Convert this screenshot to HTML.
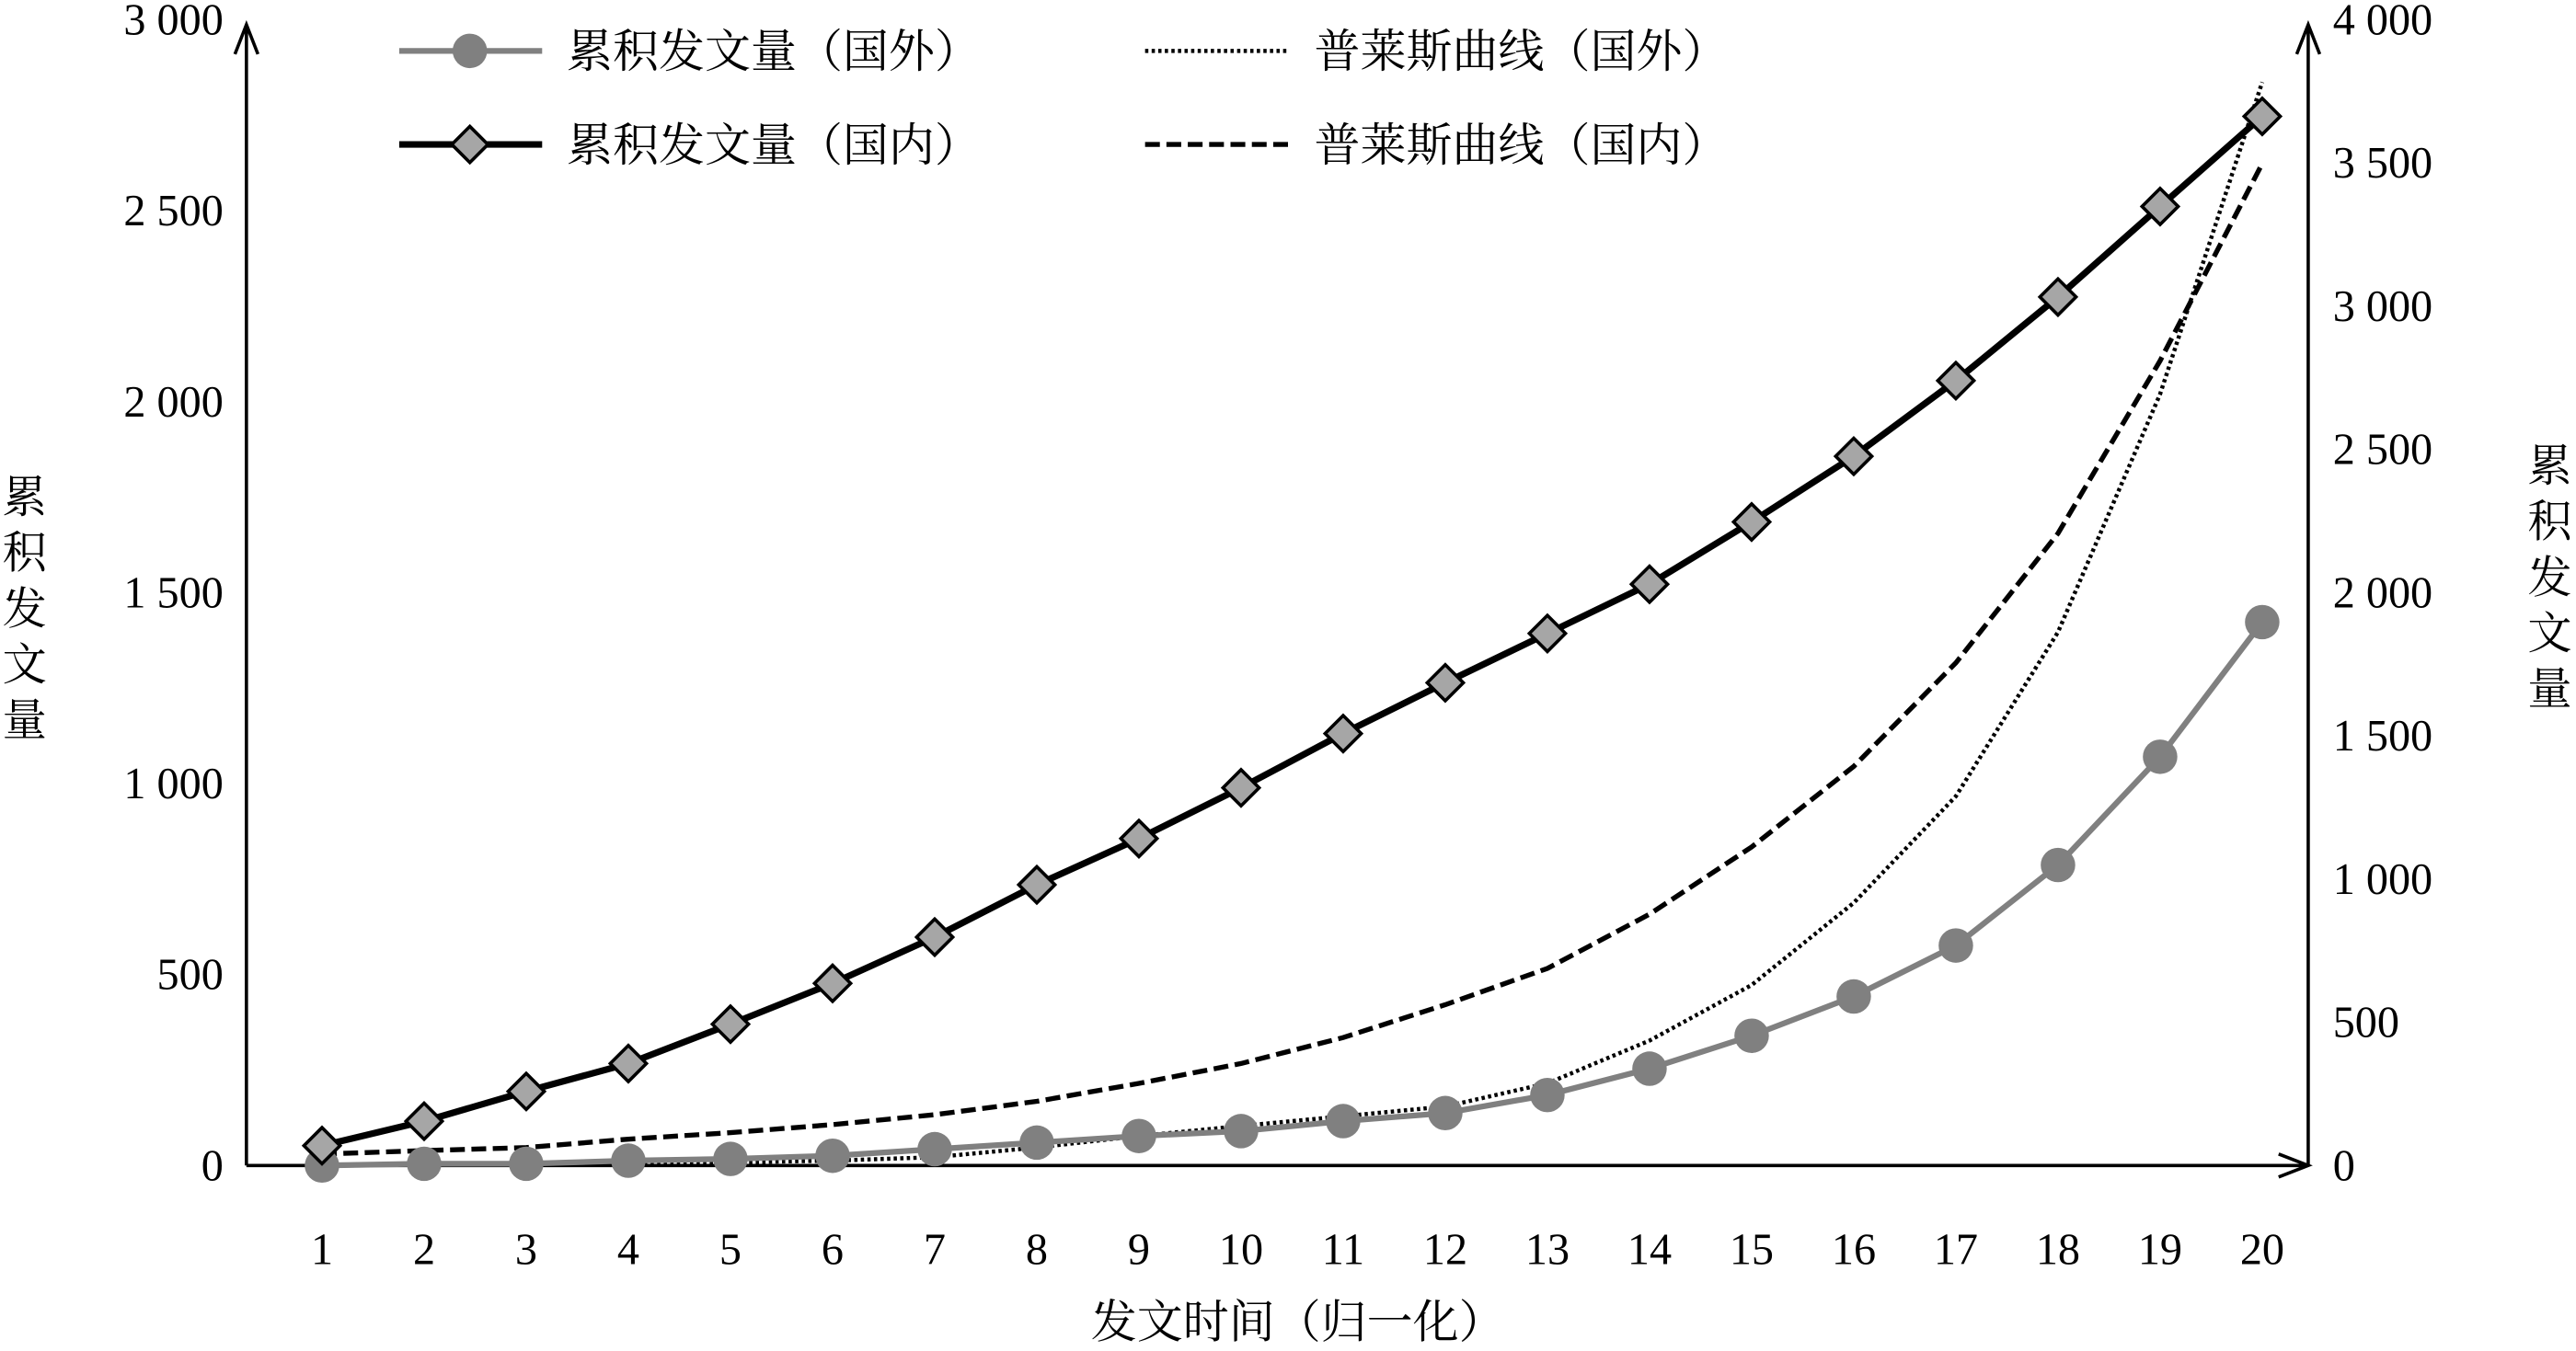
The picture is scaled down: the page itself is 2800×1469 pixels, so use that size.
<!DOCTYPE html>
<html><head><meta charset="utf-8"><style>
html,body{margin:0;padding:0;background:#fff;}
svg{display:block;}
text{font-family:"Liberation Serif","Noto Serif CJK SC",serif;fill:#000;}
</style></head><body>
<svg id="chart" width="2800" height="1469" viewBox="0 0 1568 823" preserveAspectRatio="none" xmlns="http://www.w3.org/2000/svg">
<g id="axes"></g>
<g id="series"></g>
<g id="legend"></g>
</svg>
<script>
const categories=[1,2,3,4,5,6,7,8,9,10,11,12,13,14,15,16,17,18,19,20];
const domesticCum=[52,116,194,267,370,477,598,735,856,989,1131,1264,1393,1522,1685,1857,2055,2274,2511,2747];
const domesticPearl=[30,39,47,69,86,107,133,168,215,267,335,421,516,658,834,1045,1316,1655,2107,2623];
const foreignCum=[0,6,6,17,23,34,57,80,103,120,155,183,246,338,453,590,768,1049,1427,1897];
const foreignPearl=[0,6,6,11,11,17,29,63,103,138,172,206,287,436,630,917,1289,1862,2693,3782];
const leftTicks=[0,500,1000,1500,2000,2500,3000];
const rightTicks=[0,500,1000,1500,2000,2500,3000,3500,4000];
const leftTickLabels=["0","500","1 000","1 500","2 000","2 500","3 000"];
const rightTickLabels=["0","500","1 000","1 500","2 000","2 500","3 000","3 500","4 000"];

const NS="http://www.w3.org/2000/svg";
const X0=150,X1=1405,Y0=710,YT=12;
const xPos=c=>196+(c-1)*(1377-196)/19;
const yL=v=>Y0-v*(Y0-YT)/3000;
const yR=v=>Y0-v*(Y0-YT)/4000;
function mk(parent,tag,attrs,txt){const e=document.createElementNS(NS,tag);for(const k in attrs)e.setAttribute(k,attrs[k]);if(txt!=null)e.textContent=txt;parent.appendChild(e);return e;}
const axes=document.getElementById('axes'),series=document.getElementById('series'),legend=document.getElementById('legend');

let e;
e=mk(axes,'path',{d:`M${X0} ${Y0}V15M${X0-7} 33L${X0} 15L${X0+7} 33`,stroke:'#000','stroke-width':2,fill:'none'});

e=mk(axes,'path',{d:`M${X1} ${Y0}V15M${X1-7} 33L${X1} 15L${X1+7} 33`,stroke:'#000','stroke-width':2,fill:'none'});

e=mk(axes,'path',{d:`M${X0} ${Y0}H${X1}M${X1-18} ${Y0-7}L${X1} ${Y0}L${X1-18} ${Y0+7}`,stroke:'#000','stroke-width':2,fill:'none'});


leftTicks.forEach((t,i)=>{e=mk(axes,'text',{x:136,y:yL(t)+9,'text-anchor':'end','font-size':27},leftTickLabels[i]);
});
rightTicks.forEach((t,i)=>{e=mk(axes,'text',{x:1420,y:yR(t)+9,'text-anchor':'start','font-size':27},rightTickLabels[i]);
});
categories.forEach(c=>{e=mk(axes,'text',{x:xPos(c),y:770,'text-anchor':'middle','font-size':27},String(c));
});
e=mk(axes,'text',{x:790,y:815,'text-anchor':'middle','font-size':28},'发文时间（归一化）');

const yt='累积发文量';
[...yt].forEach((ch,i)=>{e=mk(axes,'text',{x:15,y:312+i*34,'text-anchor':'middle','font-size':27},ch);

e=mk(axes,'text',{x:1552,y:293+i*34,'text-anchor':'middle','font-size':27},ch);
});

function pts(arr,yf){return arr.map((v,i)=>`${xPos(categories[i])},${yf(v)}`).join(' ');}
e=mk(series,'polyline',{points:pts(foreignPearl,yR),fill:'none',stroke:'#000','stroke-width':2.5,'stroke-dasharray':'2 2'});

e=mk(series,'polyline',{points:pts(domesticPearl,yL),fill:'none',stroke:'#000','stroke-width':3,'stroke-dasharray':'9 4'});

e=mk(series,'polyline',{points:pts(foreignCum,yR),fill:'none',stroke:'#808080','stroke-width':3.5});

foreignCum.forEach((v,i)=>{e=mk(series,'circle',{cx:xPos(categories[i]),cy:yR(v),r:10.5,fill:'#808080'});
});
e=mk(series,'polyline',{points:pts(domesticCum,yL),fill:'none',stroke:'#000','stroke-width':4});

domesticCum.forEach((v,i)=>{const x=xPos(categories[i]),y=yL(v);
e=mk(series,'path',{d:`M${x} ${y-11}L${x+11} ${y}L${x} ${y+11}L${x-11} ${y}Z`,fill:'#a6a6a6',stroke:'#000','stroke-width':2});
});

// legend
e=mk(legend,'line',{x1:243,y1:31,x2:330,y2:31,stroke:'#808080','stroke-width':3.5});

e=mk(legend,'circle',{cx:286,cy:31,r:10.5,fill:'#808080'});

e=mk(legend,'text',{x:345,y:41,'font-size':28},'累积发文量（国外）');

e=mk(legend,'line',{x1:243,y1:88,x2:330,y2:88,stroke:'#000','stroke-width':4});

e=mk(legend,'path',{d:'M286 77L297 88L286 99L275 88Z',fill:'#a6a6a6',stroke:'#000','stroke-width':2});

e=mk(legend,'text',{x:345,y:98,'font-size':28},'累积发文量（国内）');

e=mk(legend,'line',{x1:697,y1:31,x2:785,y2:31,stroke:'#000','stroke-width':2.5,'stroke-dasharray':'2 2'});

e=mk(legend,'text',{x:800,y:41,'font-size':28},'普莱斯曲线（国外）');

e=mk(legend,'line',{x1:697,y1:88,x2:785,y2:88,stroke:'#000','stroke-width':3,'stroke-dasharray':'9 4'});

e=mk(legend,'text',{x:800,y:98,'font-size':28},'普莱斯曲线（国内）');

</script>
</body></html>
